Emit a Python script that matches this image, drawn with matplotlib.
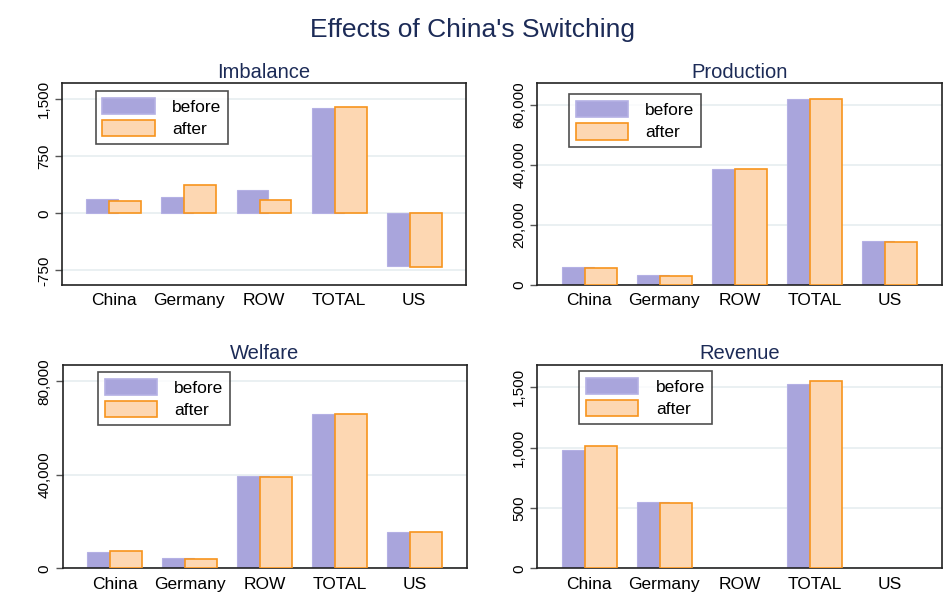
import numpy as np
import matplotlib
matplotlib.use('Agg')
from matplotlib import pyplot as plt
from matplotlib.ticker import FuncFormatter

plt.rcParams['font.family'] = ['Liberation Sans', 'DejaVu Sans']

regions = ['China', 'Germany', 'ROW', 'TOTAL', 'US']

imbalance_before = [184, 214, 311, 1386, -689]
imbalance_after = [158, 372, 175, 1403, -702]
production_before = [5960, 3210, 38640, 61920, 14470]
production_after = [5800, 3000, 38600, 61900, 14420]
welfare_before = [7100, 4280, 39500, 66020, 15680]
welfare_after = [7420, 4140, 38930, 65880, 15680]
revenue_before = [981, 547, 0, 1525, 0]
revenue_after = [1014, 539, 0, 1550, 0]

panels = [
    ('Imbalance', imbalance_before, imbalance_after, [-750, 0, 750, 1500], (-943, 1711), (0.083, 0.963)),
    ('Production', production_before, production_after, [0, 20000, 40000, 60000], (0, 67020), (0.078, 0.946)),
    ('Welfare', welfare_before, welfare_after, [0, 40000, 80000], (0, 86970), (0.087, 0.967)),
    ('Revenue', revenue_before, revenue_after, [0, 500, 1000, 1500], (0, 1686), (0.104, 0.97)),
]
positions = [
    [0.0656, 0.525, 0.4275, 0.336],
    [0.5686, 0.525, 0.428, 0.336],
    [0.0663, 0.0528, 0.4275, 0.339],
    [0.5686, 0.0528, 0.428, 0.339],
]

purple = '#a9a5dc'
peach = '#fdd7b2'
orange = '#f7941d'
navy = '#1c2b57'

fig = plt.figure(figsize=(9.45, 6), dpi=100)
fig.suptitle("Effects of China's Switching", fontsize=19, color=navy, y=0.97)

x = np.arange(len(regions))
w = 0.425
off = 0.153
for (title, before, after, ticks, ylim, legpos), pos in zip(panels, positions):
    ax = fig.add_axes(pos)
    ax.set_axisbelow(True)
    ax.grid(axis='y', color='#e6eef0', linewidth=1.2)
    lw_b = [0.8 if v != 0 else 0 for v in before]
    lw_a = [1.2 if v != 0 else 0 for v in after]
    ax.bar(x - off, before, w, color=purple, edgecolor='#b4b0e4', linewidth=lw_b, label='before', zorder=2)
    ax.bar(x + off, after, w, color=peach, edgecolor=orange, linewidth=lw_a, label='after', zorder=3)
    ax.set_xlim(-0.69, 4.69)
    ax.set_ylim(*ylim)
    ax.set_yticks(ticks)
    ax.yaxis.set_major_formatter(FuncFormatter(lambda v, p: '{:,.0f}'.format(v)))
    ax.set_xticks(x)
    ax.set_xticklabels(regions, fontsize=12.5)
    ax.tick_params(axis='x', length=0, pad=6)
    ax.tick_params(axis='y', length=5, width=1, color='#555555', labelsize=11, pad=3)
    for lab in ax.get_yticklabels():
        lab.set_rotation(90)
        lab.set_va('center')
    for s in ax.spines.values():
        s.set_color('#222222')
        s.set_linewidth(1.2)
    ax.set_title(title, fontsize=14.5, color=navy, pad=4)
    leg = ax.legend(loc='upper left', bbox_to_anchor=legpos, fontsize=12.5, frameon=True,
                    fancybox=False, handlelength=3.0, handleheight=1.05,
                    handletextpad=1.0, borderpad=0.4, labelspacing=0.3, borderaxespad=0)
    for h in leg.legend_handles:
        h.set_linewidth(1.2)
    leg.get_frame().set_edgecolor('#222222')
    leg.get_frame().set_linewidth(1.2)

fig.savefig('out.png', dpi=100)
